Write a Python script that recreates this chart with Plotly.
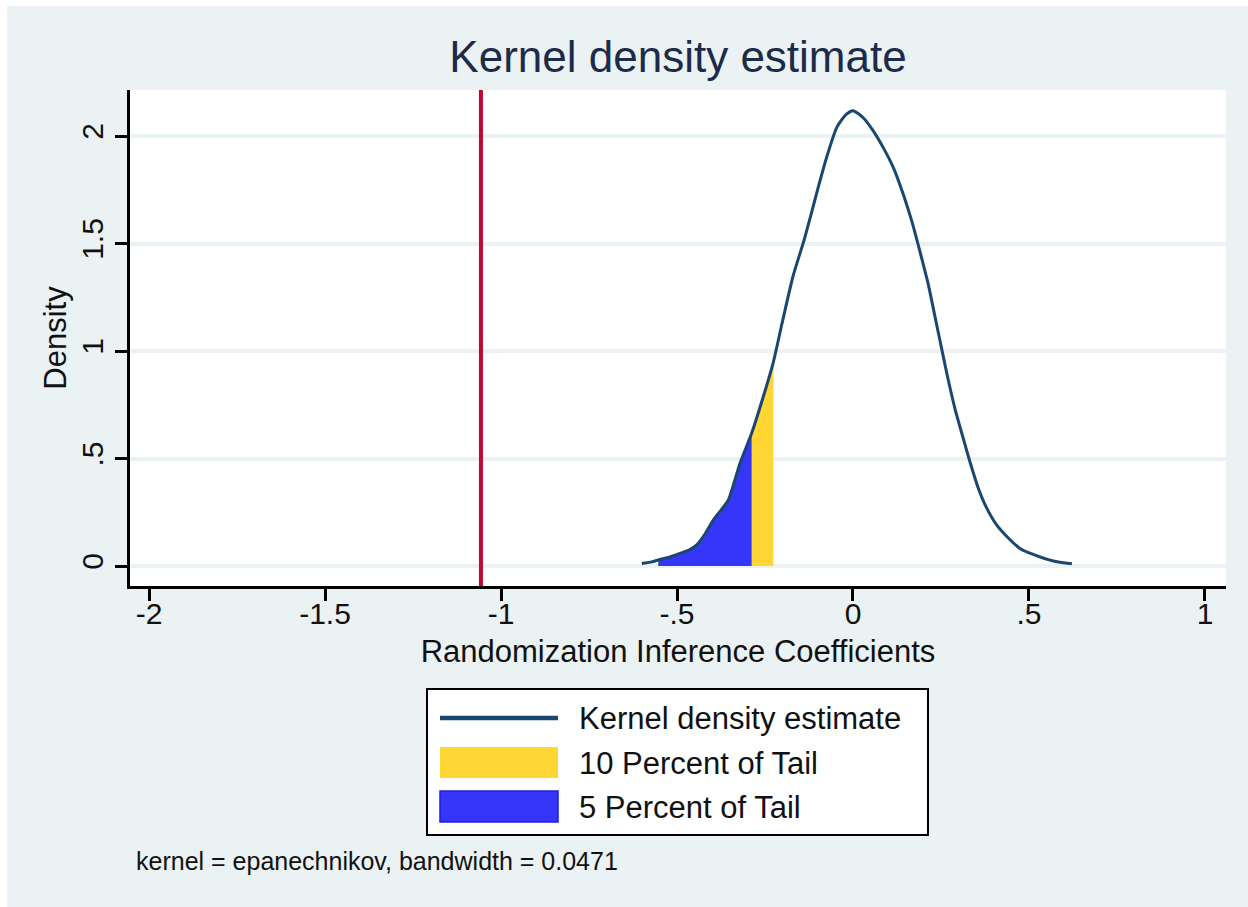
import plotly.graph_objects as go

# ---------------- data ----------------
kde_x = [-0.600, -0.575, -0.553, -0.520, -0.491, -0.465, -0.444, -0.420, -0.397,
         -0.375, -0.354, -0.321, -0.288, -0.255, -0.226, -0.200, -0.170, -0.140,
         -0.120, -0.099, -0.075, -0.046, -0.020, 0.000, 0.029, 0.058, 0.086,
         0.115, 0.143, 0.167, 0.190, 0.214, 0.238, 0.252, 0.266, 0.290, 0.313,
         0.332, 0.356, 0.380, 0.408, 0.437, 0.474, 0.512, 0.569, 0.622]
kde_y = [0.012, 0.018, 0.028, 0.042, 0.059, 0.075, 0.098, 0.150, 0.214,
         0.260, 0.307, 0.478, 0.617, 0.787, 0.950, 1.140, 1.350, 1.510,
         1.630, 1.760, 1.900, 2.040, 2.100, 2.118, 2.085, 2.023, 1.946,
         1.852, 1.728, 1.604, 1.464, 1.309, 1.120, 1.010, 0.900, 0.730, 0.595,
         0.486, 0.362, 0.269, 0.191, 0.137, 0.082, 0.054, 0.023, 0.010]

tail_start = -0.553      # start of shaded tail areas
tail10_end = -0.226      # right edge of the 10 percent tail
tail5_end = -0.288       # right edge of the 5 percent tail
observed_coef = -1.057   # vertical reference line

x_tickvals = [-2, -1.5, -1, -0.5, 0, 0.5, 1]
x_ticktext = ["-2", "-1.5", "-1", "-.5", "0", ".5", "1"]
y_tickvals = [0, 0.5, 1, 1.5, 2]
y_ticktext = ["0", ".5", "1", "1.5", "2"]

legend_labels = ["Kernel density estimate", "10 Percent of Tail", "5 Percent of Tail"]
title_text = "Kernel density estimate"
x_title = "Randomization Inference Coefficients"
y_title = "Density"
note_text = "kernel = epanechnikov, bandwidth = 0.0471"

# ---------------- styling ----------------
W, H = 1248, 907
L, R, T, B = 130, 1226, 90, 586
FONT = "Liberation Sans, Arial, Helvetica, sans-serif"
BG = "#eaf2f3"
NAVY = "#1a476f"
YELLOW = "#ffd633"
BLUE = "#3636fb"
BLUE_EDGE = "#1e1ee6"
RED = "#c10534"


def px_x(p):
    return (p - L) / (R - L)


def px_y(p):
    return (B - p) / (B - T)


x10 = [x for x in kde_x if tail_start <= x <= tail10_end]
y10 = [y for x, y in zip(kde_x, kde_y) if tail_start <= x <= tail10_end]
x5 = [x for x in kde_x if tail_start <= x <= tail5_end]
y5 = [y for x, y in zip(kde_x, kde_y) if tail_start <= x <= tail5_end]

fig = go.Figure()
fig.add_trace(go.Scatter(x=x10, y=y10, mode="lines", fill="tozeroy",
                         fillcolor=YELLOW, line=dict(color=YELLOW, width=0.5),
                         name=legend_labels[1], showlegend=False))
fig.add_trace(go.Scatter(x=x5, y=y5, mode="lines", fill="tozeroy",
                         fillcolor=BLUE, line=dict(color=BLUE_EDGE, width=1.2),
                         name=legend_labels[2], showlegend=False))
fig.add_trace(go.Scatter(x=kde_x, y=kde_y, mode="lines",
                         line=dict(color=NAVY, width=3, shape="spline", smoothing=0.6),
                         name=legend_labels[0], showlegend=False))

shapes = []
# observed coefficient line
shapes.append(dict(type="line", xref="x", yref="paper", x0=observed_coef, x1=observed_coef,
                   y0=0, y1=1, line=dict(color=RED, width=4), layer="above"))
# white border strips of the picture (top and left)
shapes.append(dict(type="rect", xref="paper", yref="paper", x0=px_x(0), x1=px_x(W),
                   y0=px_y(6), y1=px_y(-2), fillcolor="white", line=dict(width=0)))
shapes.append(dict(type="rect", xref="paper", yref="paper", x0=px_x(-2), x1=px_x(7),
                   y0=px_y(H + 2), y1=px_y(0), fillcolor="white", line=dict(width=0)))
# legend box
shapes.append(dict(type="rect", xref="paper", yref="paper", x0=px_x(427), x1=px_x(928),
                   y0=px_y(835), y1=px_y(689), fillcolor="white",
                   line=dict(color="black", width=2)))
shapes.append(dict(type="line", xref="paper", yref="paper", x0=px_x(440), x1=px_x(558),
                   y0=px_y(718), y1=px_y(718), line=dict(color=NAVY, width=4.5)))
shapes.append(dict(type="rect", xref="paper", yref="paper", x0=px_x(440), x1=px_x(558),
                   y0=px_y(778), y1=px_y(747), fillcolor=YELLOW, line=dict(width=0)))
shapes.append(dict(type="rect", xref="paper", yref="paper", x0=px_x(440), x1=px_x(558),
                   y0=px_y(822), y1=px_y(791), fillcolor=BLUE,
                   line=dict(color=BLUE_EDGE, width=1.5)))

annotations = []
for label, yc in zip(legend_labels, [718, 763, 807]):
    annotations.append(dict(text=label, xref="paper", yref="paper", x=px_x(577), y=px_y(yc),
                            xanchor="left", yanchor="middle", showarrow=False,
                            font=dict(family=FONT, size=31, color="#111111")))
annotations.append(dict(text=note_text, xref="paper", yref="paper", x=px_x(134), y=px_y(861),
                        xanchor="left", yanchor="middle", showarrow=False,
                        font=dict(family=FONT, size=25, color="#111111")))

fig.update_layout(
    width=W, height=H, autosize=False,
    margin=dict(l=L, r=W - R, t=T, b=H - B, pad=0),
    paper_bgcolor=BG, plot_bgcolor="white",
    showlegend=False,
    title=dict(text=title_text, x=px_x(678), xref="paper", xanchor="center",
               y=1 - 57 / H, yref="container", yanchor="middle",
               font=dict(family=FONT, size=44, color="#1c2b4a")),
    shapes=shapes, annotations=annotations,
    font=dict(family=FONT, color="#111111"),
)
fig.update_xaxes(range=[-2.054, 1.0597], tickvals=x_tickvals, ticktext=x_ticktext,
                 showgrid=False, zeroline=False, showline=True, linecolor="black",
                 linewidth=3, ticks="outside", ticklen=12, tickwidth=3, tickcolor="black",
                 ticklabelstandoff=-13,
                 tickfont=dict(family=FONT, size=30, color="#111111"),
                 title=dict(text=x_title, standoff=12,
                            font=dict(family=FONT, size=31, color="#111111")))
fig.update_yaxes(range=[-0.093, 2.214], tickvals=y_tickvals, ticktext=y_ticktext,
                 tickangle=-90, showgrid=True, gridcolor=BG, gridwidth=4,
                 zeroline=False, showline=True, linecolor="black", linewidth=3,
                 ticks="outside", ticklen=12, tickwidth=3, tickcolor="black",
                 tickfont=dict(family=FONT, size=30, color="#111111"),
                 title=dict(text=y_title, standoff=1,
                            font=dict(family=FONT, size=31, color="#111111")))

fig.write_html("out.html")
